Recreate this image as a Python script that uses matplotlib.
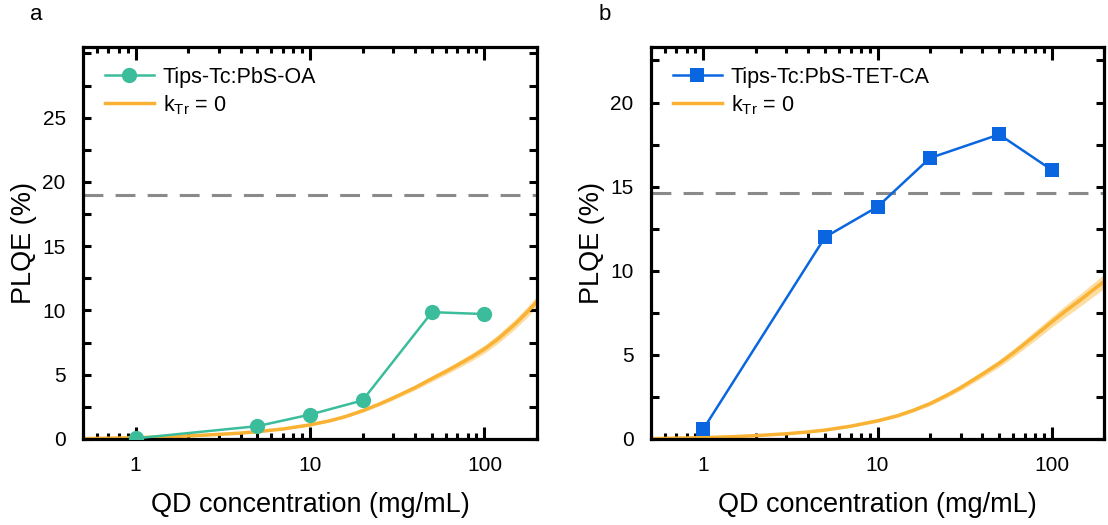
import numpy as np
import matplotlib
matplotlib.use("Agg")
import matplotlib.pyplot as plt
from matplotlib.ticker import FixedLocator, LogLocator, NullFormatter, FuncFormatter

plt.rcParams['font.family'] = ['Liberation Sans', 'DejaVu Sans']
plt.rcParams['mathtext.fontset'] = 'custom'
plt.rcParams['mathtext.rm'] = 'Liberation Sans'
plt.rcParams['mathtext.it'] = 'Liberation Sans'

# Measured PLQE vs QD concentration
conc = [1, 5, 10, 20, 50, 100]
plqe_oa = [0.05, 1.0, 1.9, 3.0, 9.87, 9.72]
plqe_tet = [0.6, 12.0, 13.8, 16.7, 18.1, 16.0]

# Model curve (k_Tr = 0) with its uncertainty band
model_conc = [0.5, 0.7, 1, 1.5, 2, 3, 4, 5, 7, 10, 13, 16, 20, 25, 30, 40, 50,
              60, 70, 85, 100, 120, 150, 175, 200]
model_oa = [0.03, 0.06, 0.1, 0.17, 0.24, 0.36, 0.46, 0.57, 0.78, 1.1, 1.42, 1.75,
            2.2, 2.72, 3.2, 4.0, 4.7, 5.25, 5.75, 6.4, 7.0, 7.8, 8.95, 9.85, 10.7]
model_tet = [0.02, 0.05, 0.08, 0.14, 0.2, 0.31, 0.42, 0.53, 0.76, 1.08, 1.38, 1.7,
             2.1, 2.6, 3.05, 3.85, 4.5, 5.1, 5.65, 6.35, 6.95, 7.6, 8.35, 8.9, 9.35]
model_err = [0.0, 0.0, 0.01, 0.01, 0.02, 0.03, 0.04, 0.05, 0.06, 0.08, 0.09, 0.1,
             0.12, 0.14, 0.16, 0.19, 0.22, 0.24, 0.26, 0.29, 0.31, 0.34, 0.37, 0.4, 0.42]

# Reference PLQE levels (dashed)
ref_oa = 19.0
ref_tet = 14.6

GREEN = '#3BBD9B'
BLUE = '#0A66E0'
ORANGE = '#F9B233'
BAND = '#FDDDA0'
GREY = '#8A8A8A'

fig = plt.figure(figsize=(11.08, 5.25), dpi=100)
ax1 = fig.add_axes([83 / 1108, 86 / 525, 454 / 1108, 392 / 525])
ax2 = fig.add_axes([651 / 1108, 86 / 525, 453 / 1108, 392 / 525])


def setup(ax, data, label, color, marker, ms, model, ref, ytop, ymajor):
    lo = np.array(model) - np.array(model_err)
    hi = np.array(model) + np.array(model_err)
    ax.fill_between(model_conc, lo, hi, color=BAND, lw=0, zorder=1)
    ax.plot(model_conc, model, color=ORANGE, lw=2.5, zorder=2,
            solid_joinstyle='round', label=r'k$_{\mathrm{Tr}}$ = 0')
    ax.axhline(ref, color=GREY, lw=2.2, dashes=(6.5, 4), zorder=1.5)
    ax.plot(conc, data, color=color, lw=1.8, marker=marker, ms=ms,
            markeredgewidth=0, zorder=3, label=label)

    ax.set_xscale('log')
    ax.set_xlim(0.5, 200)
    ax.set_ylim(0, ytop)
    ax.xaxis.set_major_locator(FixedLocator([1, 10, 100]))
    ax.xaxis.set_major_formatter(FuncFormatter(lambda v, p: f'{v:g}'))
    ax.xaxis.set_minor_locator(LogLocator(base=10, subs=np.arange(2, 10)))
    ax.xaxis.set_minor_formatter(NullFormatter())
    ax.yaxis.set_major_locator(FixedLocator(ymajor))
    ax.yaxis.set_major_formatter(FuncFormatter(lambda v, p: f'{v:g}' if v < ytop - 2 else ''))
    ax.yaxis.set_minor_locator(FixedLocator(np.arange(2.5, ytop, 5)))

    ax.tick_params(which='both', direction='in', top=True, right=True,
                   labelsize=15, width=2.2)
    ax.tick_params(axis='x', which='major', length=9, pad=12.5)
    ax.tick_params(axis='x', which='minor', length=4.5)
    ax.tick_params(axis='y', which='both', length=5.5, pad=12.5)
    for s in ax.spines.values():
        s.set_linewidth(2.3)

    ax.set_xlabel('QD concentration (mg/mL)', fontsize=19.5, labelpad=12)
    ax.set_ylabel('PLQE (%)', fontsize=19.5, labelpad=4)

    h, l = ax.get_legend_handles_labels()
    ax.legend(h[::-1], l[::-1], loc='upper left', frameon=False, fontsize=15.5,
              handlelength=2.3, handletextpad=0.4, labelspacing=0.25,
              borderaxespad=0.6, bbox_to_anchor=(0.0, 1.005))


setup(ax1, plqe_oa, 'Tips-Tc:PbS-OA', GREEN, 'o', 11, model_oa, ref_oa, 30.5,
      [0, 5, 10, 15, 20, 25, 30])
setup(ax2, plqe_tet, 'Tips-Tc:PbS-TET-CA', BLUE, 's', 10.5, model_tet, ref_tet, 23.3,
      [0, 5, 10, 15, 20])

fig.text(36 / 1108, 1 - 15 / 525, 'a', fontsize=16, ha='center', va='center')
fig.text(605 / 1108, 1 - 15 / 525, 'b', fontsize=16, ha='center', va='center')

fig.savefig('out.png', dpi=100)
